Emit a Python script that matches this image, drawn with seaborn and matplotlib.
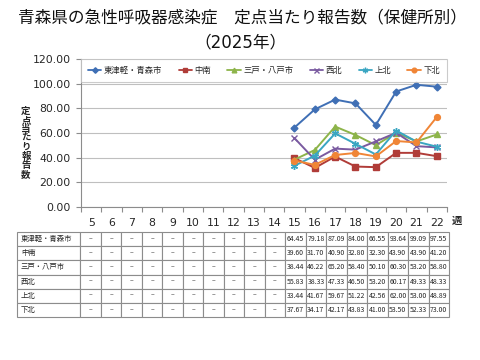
import numpy as np
import pandas as pd
import matplotlib
matplotlib.use("Agg")
import matplotlib.pyplot as plt
import seaborn as sns
from matplotlib.lines import Line2D

# weeks shown on the axis, and weeks that have data
weeks = list(range(5, 23))
data_weeks = list(range(15, 23))

regions = ["東津軽・青森市", "中南", "三戸・八戸市", "西北", "上北", "下北"]
v_higashi = [64.45, 79.18, 87.09, 84.00, 66.55, 93.64, 99.09, 97.55]
v_chunan = [39.60, 31.70, 40.90, 32.80, 32.30, 43.90, 43.90, 41.20]
v_sannohe = [38.44, 46.22, 65.20, 58.40, 50.10, 60.30, 53.20, 58.80]
v_seihoku = [55.83, 38.33, 47.33, 46.50, 53.20, 60.17, 49.33, 48.33]
v_kamikita = [33.44, 41.67, 59.67, 51.22, 42.56, 62.00, 53.00, 48.89]
v_shimokita = [37.67, 34.17, 42.17, 43.83, 41.00, 53.50, 52.33, 73.00]
series = [v_higashi, v_chunan, v_sannohe, v_seihoku, v_kamikita, v_shimokita]

colors = ["#3F6FB5", "#B03C38", "#8DB44A", "#7A5AA0", "#3AA6C2", "#F08536"]
markers = ["D", "s", "^", "x", (6, 2, 0), "o"]
msizes = [3.5, 3.8, 4.2, 4.5, 5, 4.2]

rows = []
for name, vals in zip(regions, series):
    for w, v in zip(data_weeks, vals):
        rows.append({"week": w, "value": v, "region": name})
df = pd.DataFrame(rows)

sns.set_theme(style="white")
plt.rcParams['font.family'] = ['DejaVu Sans', 'Noto Sans CJK JP']

fig = plt.figure(figsize=(4.8, 3.6), dpi=100)
ax = fig.add_axes([81/480, 153/360, 366/480, 148/360])

for name, c, m, ms in zip(regions, colors, markers, msizes):
    sns.lineplot(data=df[df["region"] == name], x="week", y="value",
                 color=c, marker=m, markersize=ms, markeredgewidth=1.0,
                 markeredgecolor=c, markerfacecolor=c, linewidth=1.4,
                 legend=False, ax=ax)

ax.set_xlim(4.5, 22.5)
ax.set_ylim(0, 120)
ax.set_yticks(np.arange(0, 121, 20))
ax.set_yticklabels([f"{t:.2f}" for t in np.arange(0, 121, 20)])
ax.set_xticks(weeks)
ax.set_xticks(np.arange(4.5, 23, 1), minor=True)
ax.set_xlabel("")
ax.set_ylabel("")
ax.grid(axis="y", color="#BFBFBF", linewidth=0.8)
ax.set_axisbelow(True)
for s in ["top", "right"]:
    ax.spines[s].set_visible(False)
for s in ["left", "bottom"]:
    ax.spines[s].set_color("#8C8C8C")
    ax.spines[s].set_linewidth(0.8)
ax.tick_params(axis="x", which="major", length=0, pad=8, labelsize=7.8, colors="#262626")
ax.tick_params(axis="x", which="minor", length=3.5, width=0.8, color="#8C8C8C", direction="out", bottom=True)
ax.tick_params(axis="y", length=3.5, width=0.8, color="#8C8C8C", direction="out", left=True, pad=4, labelsize=7.8, labelcolor="#262626")

handles = [Line2D([], [], color=c, marker=m, markersize=ms * 0.8, markerfacecolor=c,
                  markeredgecolor=c, linewidth=1.3)
           for c, m, ms in zip(colors, markers, msizes)]
leg = ax.legend(handles, regions, loc="upper left", bbox_to_anchor=(0, 100/120, 1, 20/120),
                mode="expand", ncol=6, fontsize=6, frameon=True, fancybox=False,
                handlelength=1.6, handletextpad=0.3, columnspacing=1.4,
                borderpad=0.85, borderaxespad=0)
leg.get_frame().set_edgecolor("#BFBFBF")
leg.get_frame().set_linewidth(0.8)

fig.text(242/480, 1 - 17/360, "青森県の急性呼吸器感染症　定点当たり報告数（保健所別）",
         ha="center", va="center", fontsize=12, color="#111111")
fig.text(240/480, 1 - 42/360, "（2025年）", ha="center", va="center", fontsize=12, color="#111111")
fig.text(26/480, 1 - 143/360, "\n".join("定点当たり報告数"), ha="center", va="center",
         fontsize=6.8, fontweight="bold", linespacing=1.0, color="#262626")
fig.text(457/480, 1 - 221/360, "週", ha="center", va="center", fontsize=7.5,
         fontweight="bold", color="#262626")

# table below the chart
tax = fig.add_axes([17/480, 43/360, 432/480, 85/360])
tax.axis("off")
empty_weeks = [w for w in weeks if w not in data_weeks]
cell_text = []
for name, vals in zip(regions, series):
    cell_text.append([name] + ["–"] * len(empty_weeks) + [f"{v:.2f}" for v in vals])
col_w = [63] + [20.33] * len(weeks)
col_w = [w / sum(col_w) for w in col_w]
tbl = tax.table(cellText=cell_text, colWidths=col_w, bbox=[0, 0, 1, 1], cellLoc="center")
tbl.auto_set_font_size(False)
tbl.set_fontsize(5)
for (r, c), cell in tbl.get_celld().items():
    cell.set_edgecolor("#8C8C8C")
    cell.set_linewidth(0.8)
    cell.get_text().set_fontfamily("Noto Sans CJK JP")
    cell.get_text().set_color("#262626")
    if c == 0:
        cell._loc = "left"
        cell.PAD = 0.06
        cell.get_text().set_ha("left")
        cell.get_text().set_fontsize(5.3)

fig.savefig("out.png", dpi=100)
